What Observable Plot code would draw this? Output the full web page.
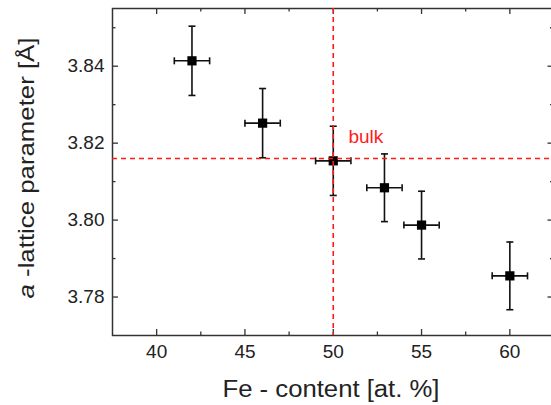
<!DOCTYPE html>
<html>
<head>
<meta charset="utf-8">
<script src="https://cdn.jsdelivr.net/npm/d3@7"></script>
<script src="https://cdn.jsdelivr.net/npm/@observablehq/plot@0.6"></script>
<style>
  html, body { margin: 0; padding: 0; background: #fff; }
  svg { display: block; overflow: hidden; }
</style>
</head>
<body>
<div id="chart"></div>
<script>
// Data
const feContent = [42, 46, 50, 52.9, 55, 60];          // Fe content [at. %]
const aParam    = [3.8414, 3.8252, 3.8154, 3.8084, 3.7987, 3.7855]; // a-lattice parameter [Å]
const xErr      = [1, 1, 1, 1, 1, 1];
const yErr      = [0.009, 0.009, 0.009, 0.0088, 0.0088, 0.0088];
const bulkA     = [3.816];
const bulkFe    = [50];
const bulkLabel = ["bulk"];
const xTicks    = [40, 45, 50, 55, 60];
const xMinor    = [42.5, 47.5, 52.5, 57.5];
const yTicks    = [3.78, 3.80, 3.82, 3.84];
const yMinor    = [3.79, 3.81, 3.83, 3.85];
const xTitle    = "Fe - content [at. %]";
const yTitleItalic = "a";
const yTitleRest   = " -lattice parameter [Å]";

const data = feContent.map((x, i) => ({x, y: aParam[i], dx: xErr[i], dy: yErr[i]}));

const W = 551, H = 405;
const mL = 112, mT = 8, mR = -2.5, mB = 70;
const innerH = H - mT - mB;
const innerW = W - mL - mR;
const axisColor = "#333";
const major = 6, minor = 3.5;

const hCap = { draw(ctx) { ctx.moveTo(-3.5, 0); ctx.lineTo(3.5, 0); } };
const vCap = { draw(ctx) { ctx.moveTo(0, -3.5); ctx.lineTo(0, 3.5); } };

const chart = Plot.plot({
  width: W, height: H,
  marginLeft: mL, marginTop: mT, marginRight: mR, marginBottom: mB,
  style: { fontFamily: "Arial, 'Liberation Sans', sans-serif", background: "#fff", color: "#222", overflow: "hidden" },
  x: { domain: [37.5, 62.5] },
  y: { domain: [3.77, 3.855] },
  marks: [
    // ticks (inward, all four sides)
    Plot.ruleX(xTicks, { stroke: axisColor, strokeWidth: 1.3, insetTop: innerH - major }),
    Plot.ruleX(xMinor, { stroke: axisColor, strokeWidth: 1.3, insetTop: innerH - minor }),
    Plot.ruleX(xTicks, { stroke: axisColor, strokeWidth: 1.3, insetBottom: innerH - major }),
    Plot.ruleX(xMinor, { stroke: axisColor, strokeWidth: 1.3, insetBottom: innerH - minor }),
    Plot.ruleY(yTicks, { stroke: axisColor, strokeWidth: 1.3, insetRight: innerW - major }),
    Plot.ruleY(yMinor, { stroke: axisColor, strokeWidth: 1.3, insetRight: innerW - minor }),
    Plot.ruleY(yTicks, { stroke: axisColor, strokeWidth: 1.3, insetLeft: innerW - major }),
    Plot.ruleY(yMinor, { stroke: axisColor, strokeWidth: 1.3, insetLeft: innerW - minor }),
    Plot.frame({ stroke: axisColor, strokeWidth: 1.5 }),
    Plot.axisX(xTicks, { tickSize: 0, tickPadding: 9, fontSize: 19, label: null, color: "#222" }),
    Plot.axisY(yTicks, { tickSize: 0, tickPadding: 8, fontSize: 19, label: null, tickFormat: ".2f", color: "#222" }),
    // error bars
    Plot.ruleX(data, { x: "x", y1: d => d.y - d.dy, y2: d => d.y + d.dy, stroke: "#111", strokeWidth: 1.6 }),
    Plot.ruleY(data, { y: "y", x1: d => d.x - d.dx, x2: d => d.x + d.dx, stroke: "#111", strokeWidth: 1.6 }),
    Plot.dot(data, { x: "x", y: d => d.y - d.dy, symbol: hCap, stroke: "#111", strokeWidth: 1.6, fill: "none" }),
    Plot.dot(data, { x: "x", y: d => d.y + d.dy, symbol: hCap, stroke: "#111", strokeWidth: 1.6, fill: "none" }),
    Plot.dot(data, { x: d => d.x - d.dx, y: "y", symbol: vCap, stroke: "#111", strokeWidth: 1.6, fill: "none" }),
    Plot.dot(data, { x: d => d.x + d.dx, y: "y", symbol: vCap, stroke: "#111", strokeWidth: 1.6, fill: "none" }),
    Plot.dot(data, { x: "x", y: "y", symbol: "square", r: 5.2, fill: "#000", stroke: "none" }),
    // bulk reference lines
    Plot.ruleY(bulkA, { stroke: "#ff1a1a", strokeWidth: 1.6, strokeDasharray: "5,4" }),
    Plot.ruleX(bulkFe, { stroke: "#ff1a1a", strokeWidth: 1.6, strokeDasharray: "5,4" }),
    Plot.text(bulkLabel, { x: () => 50.86, y: () => 3.8216, text: d => d, fill: "#ff1a1a", fontSize: 19, textAnchor: "start" })
  ]
});

const svg = d3.select(chart);
// X axis title
svg.append("text")
  .attr("x", 331).attr("y", 397)
  .attr("text-anchor", "middle")
  .attr("font-family", "Arial, 'Liberation Sans', sans-serif")
  .attr("font-size", 23)
  .attr("fill", "#222")
  .attr("textLength", 217).attr("lengthAdjust", "spacingAndGlyphs")
  .text(xTitle);
// Y axis title
const yt = svg.append("text")
  .attr("transform", "translate(34,168) rotate(-90)")
  .attr("text-anchor", "middle")
  .attr("font-family", "Arial, 'Liberation Sans', sans-serif")
  .attr("font-size", 22)
  .attr("fill", "#222")
  .attr("textLength", 261).attr("lengthAdjust", "spacingAndGlyphs");
yt.append("tspan").attr("font-style", "italic").text(yTitleItalic);
yt.append("tspan").text(yTitleRest);

document.getElementById("chart").append(chart);
</script>
</body>
</html>
